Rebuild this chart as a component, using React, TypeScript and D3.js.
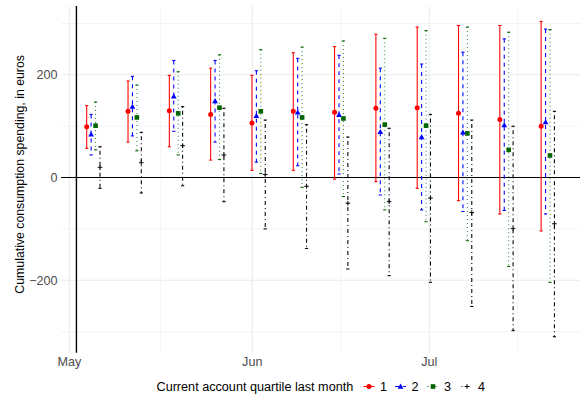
import React from "react";
import * as d3 from "d3";

const weekDates = ["2019-05-05","2019-05-12","2019-05-19","2019-05-26","2019-06-02","2019-06-09","2019-06-16","2019-06-23","2019-06-30","2019-07-07","2019-07-14","2019-07-21"];
const quartiles = ["1", "2", "3", "4"];

const q1Est = [99,129,130,123,106,129,127,135,136,125,113,100];
const q1Lo = [57,69,60,34,14,14,-3,-8,-21,-45,-71,-104];
const q1Hi = [140,188,199,213,199,243,255,279,293,296,296,304];
const q2Est = [84,138,158,149,120,127,122,89,79,88,102,108];
const q2Lo = [44,81,90,69,30,23,7,-34,-63,-66,-64,-71];
const q2Hi = [123,197,228,228,208,232,238,213,221,244,270,289];
const q3Est = [101,117,125,136,129,117,115,103,101,86,54,43];
const q3Lo = [54,52,44,35,8,-19,-37,-63,-86,-123,-173,-204];
const q3Hi = [147,180,206,239,249,254,266,271,286,293,283,288];
const q4Est = [20,29,62,44,6,-17,-50,-47,-40,-68,-99,-90];
const q4Lo = [-21,-30,-16,-47,-100,-138,-178,-191,-204,-251,-298,-310];
const q4Hi = [60,88,138,135,112,103,79,96,123,112,100,129];

const yTicks = [-200, 0, 200];
const yMinor = [-300, -100, 100, 300];
const xTickDates = ["2019-05-01", "2019-06-01", "2019-07-01"];
const xTickLabels = ["May", "Jun", "Jul"];
const eventDate = "2019-05-02T05:00:00";

const colors = ["#FF0000", "#0000FF", "#006400", "#000000"];
const dashes = ["none", "4,4", "1,3", "1,3,4,3"];
const dodgeDays = [-1.05, -0.3, 0.45, 1.2];

const parse = (s: string) => {
  if (s.includes("T")) return new Date(s);
  const [y, m, d] = s.split("-").map(Number);
  return new Date(y, m - 1, d);
};

const W = 584, H = 398;
const panel = { left: 61, right: 580, top: 6, bottom: 352.7 };

function Marker({ kind, x, y, color }: { kind: number; x: number; y: number; color: string }) {
  if (kind === 0) return <circle cx={x} cy={y} r={2.5} fill={color} />;
  if (kind === 1) {
    const s = 2.9;
    return <path d={`M${x},${y - s}L${x + s},${y + s * 0.75}L${x - s},${y + s * 0.75}Z`} fill={color} />;
  }
  if (kind === 2) return <rect x={x - 2.3} y={y - 2.3} width={4.6} height={4.6} fill={color} />;
  return <path d={`M${x - 2.3},${y}H${x + 2.3}M${x},${y - 2.3}V${y + 2.3}`} stroke={color} strokeWidth={1} fill="none" />;
}

export default function App() {
  const x = d3.scaleTime().domain([parse("2019-05-01"), parse("2019-07-01")]).range([69.3, 429.3]);
  const y = d3.scaleLinear().domain([-341, 334]).range([panel.bottom, panel.top]);

  const series = [
    { est: q1Est, lo: q1Lo, hi: q1Hi },
    { est: q2Est, lo: q2Lo, hi: q2Hi },
    { est: q3Est, lo: q3Lo, hi: q3Hi },
    { est: q4Est, lo: q4Lo, hi: q4Hi },
  ];

  const majorX = xTickDates.map(parse);
  const minorX: Date[] = [];
  for (let i = 0; i < majorX.length - 1; i++) {
    minorX.push(new Date((majorX[i].getTime() + majorX[i + 1].getTime()) / 2));
  }
  if (majorX.length > 1) {
    const last = majorX[majorX.length - 1].getTime();
    const prev = majorX[majorX.length - 2].getTime();
    minorX.push(new Date(last + (last - prev) / 2));
  }

  const font = "'Liberation Sans', Arial, Helvetica, sans-serif";
  const grid = "#EBEBEB";
  const dayMs = 86400000;

  const legendKeys = [369, 400.6, 433, 467];

  return (
    <svg width={W} height={H} style={{ position: "absolute", left: 0, top: 0 }} fontFamily={font}>
      <rect width={W} height={H} fill="white" />
      {yMinor.map((v) => (
        <line key={"ym" + v} x1={panel.left} x2={panel.right} y1={y(v)} y2={y(v)} stroke={grid} strokeWidth={0.55} />
      ))}
      {minorX.map((d, i) => (
        <line key={"xm" + i} x1={x(d)} x2={x(d)} y1={panel.top} y2={panel.bottom} stroke={grid} strokeWidth={0.55} />
      ))}
      {yTicks.map((v) => (
        <line key={"yM" + v} x1={panel.left} x2={panel.right} y1={y(v)} y2={y(v)} stroke={grid} strokeWidth={1.07} />
      ))}
      {majorX.map((d, i) => (
        <line key={"xM" + i} x1={x(d)} x2={x(d)} y1={panel.top} y2={panel.bottom} stroke={grid} strokeWidth={1.07} />
      ))}
      <line x1={panel.left} x2={panel.right} y1={y(0)} y2={y(0)} stroke="#000" strokeWidth={1.07} />
      <line x1={x(parse(eventDate))} x2={x(parse(eventDate))} y1={panel.top} y2={panel.bottom} stroke="#000" strokeWidth={1.4} />
      {series.map((s, k) => (
        <g key={"s" + k}>
          {weekDates.map((wd, i) => {
            const cx = x(new Date(parse(wd).getTime() + dodgeDays[k] * dayMs));
            const y1 = y(s.hi[i]);
            const y2 = y(s.lo[i]);
            return (
              <g key={i}>
                <line x1={cx} x2={cx} y1={y1} y2={y2} stroke={colors[k]} strokeWidth={1.07} strokeDasharray={dashes[k]} opacity={k === 2 ? 0.75 : 1} />
                <line x1={cx - 1.6} x2={cx + 1.6} y1={y1} y2={y1} stroke={colors[k]} strokeWidth={1.07} />
                <line x1={cx - 1.6} x2={cx + 1.6} y1={y2} y2={y2} stroke={colors[k]} strokeWidth={1.07} />
              </g>
            );
          })}
          {weekDates.map((wd, i) => {
            const cx = x(new Date(parse(wd).getTime() + dodgeDays[k] * dayMs));
            return <Marker key={"m" + i} kind={k} x={cx} y={y(s.est[i])} color={colors[k]} />;
          })}
        </g>
      ))}
      {yTicks.map((v) => (
        <text key={"yt" + v} x={57.5} y={y(v)} dy="0.35em" textAnchor="end" fontSize={12.6} fill="#4D4D4D">
          {v < 0 ? "\u2212" + Math.abs(v) : String(v)}
        </text>
      ))}
      {xTickLabels.map((lab, i) => (
        <text key={"xt" + lab} x={x(majorX[i])} y={366} textAnchor="middle" fontSize={12.6} fill="#4D4D4D">
          {lab}
        </text>
      ))}
      <text transform={`translate(23.5,${(panel.top + panel.bottom) / 2 - 5}) rotate(-90)`} textAnchor="middle" fontSize={12.3} fill="#000">
        Cumulative consumption spending, in euros
      </text>
      <text x={156.5} y={391.3} fontSize={12.65} fill="#000">Current account quartile last month</text>
      {quartiles.map((q, k) => {
        const cx = legendKeys[k];
        const ly = 386.5;
        return (
          <g key={"lg" + q}>
            <line x1={cx - 5.5} x2={cx + 5.5} y1={ly} y2={ly} stroke={colors[k]} strokeWidth={1.07} strokeDasharray={dashes[k]} />
            <Marker kind={k} x={cx} y={ly} color={colors[k]} />
            <text x={cx + 11} y={391.3} fontSize={12.65} fill="#000">{q}</text>
          </g>
        );
      })}
    </svg>
  );
}
